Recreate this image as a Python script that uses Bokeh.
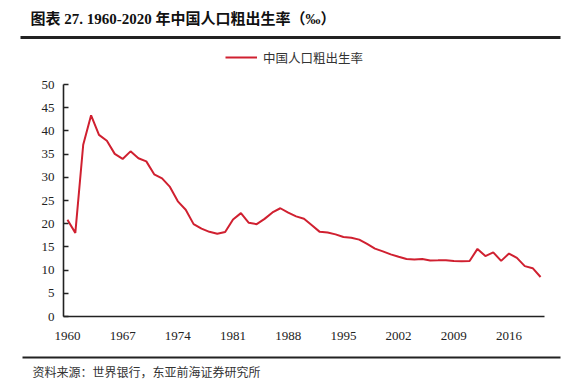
from bokeh.plotting import figure
from bokeh.models import (Range1d, FixedTicker, Label, BoxAnnotation, Legend, LegendItem,
                          ColumnDataSource, LinearAxis)
from bokeh.embed import file_html
from bokeh.resources import INLINE

# ---- data ----
years = list(range(1960, 2021))
birth_rate = [20.86, 18.02, 37.01, 43.37, 39.14, 37.88, 35.05, 33.96, 35.59, 34.11,
              33.43, 30.65, 29.77, 27.93, 24.82, 23.01, 19.91, 18.93, 18.25, 17.82,
              18.21, 20.91, 22.28, 20.19, 19.90, 21.04, 22.43, 23.33, 22.37, 21.58,
              21.06, 19.68, 18.24, 18.09, 17.70, 17.12, 16.98, 16.57, 15.64, 14.64,
              14.03, 13.38, 12.86, 12.41, 12.29, 12.40, 12.09, 12.10, 12.14, 11.95,
              11.90, 11.95, 14.57, 13.03, 13.83, 11.99, 13.57, 12.64, 10.86, 10.41,
              8.52]
x_ticks = [1960, 1967, 1974, 1981, 1988, 1995, 2002, 2009, 2016]
y_ticks = [0, 5, 10, 15, 20, 25, 30, 35, 40, 45, 50]
series_name = "中国人口粗出生率"
title_text = "图表 27. 1960-2020 年中国人口粗出生率（‰）"
source_text = "资料来源：世界银行，东亚前海证券研究所"

RED = "#D02030"
SERIF = "'Liberation Serif', 'Noto Sans CJK SC'"
CJK = "'Noto Sans CJK SC'"

# geometry (px, canvas)
W, H = 573, 387
FL, FR, FT, FB = 4, W - 2, 2, H - 2       # frame edges
AX_L, AX_R, AX_T, AX_B = 63, 544, 84, 316  # axis box
xlo, xhi = 1959.5, 2020.5
ylo, yhi = 0, 50
ppx = (AX_R - AX_L) / (xhi - xlo)
ppy = (AX_B - AX_T) / (yhi - ylo)
x_range = Range1d(xlo - (AX_L - FL) / ppx, xhi + (FR - AX_R) / ppx)
y_range = Range1d(ylo - (FB - AX_B) / ppy, yhi + (AX_T - FT) / ppy)

p = figure(width=W, height=H, output_backend="svg", toolbar_location=None,
           x_range=x_range, y_range=y_range,
           x_axis_location=None, y_axis_location=None,
           min_border_left=FL, min_border_right=W - FR, min_border_top=FT,
           min_border_bottom=H - FB)
p.outline_line_color = None
p.xgrid.grid_line_color = None
p.ygrid.grid_line_color = None
p.background_fill_color = "white"
p.border_fill_color = "white"

src = ColumnDataSource(dict(year=years, rate=birth_rate))
r = p.line("year", "rate", source=src, line_color=RED, line_width=2)

xaxis = LinearAxis(fixed_location=0, bounds=(xlo, xhi), ticker=FixedTicker(ticks=x_ticks))
yaxis = LinearAxis(fixed_location=xlo, bounds=(ylo, yhi), ticker=FixedTicker(ticks=y_ticks))
for ax in (xaxis, yaxis):
    ax.axis_line_color = "#222222"
    ax.axis_line_width = 1.6
    ax.major_label_text_font = "Liberation Serif"
    ax.major_label_text_font_size = "13px"
    ax.major_label_text_color = "#222222"
    ax.minor_tick_line_color = None
xaxis.major_tick_line_color = None
xaxis.major_label_standoff = 9
yaxis.major_tick_in = 5
yaxis.major_tick_out = 0
yaxis.major_tick_line_color = "#222222"
yaxis.major_tick_line_width = 1.4
yaxis.major_label_standoff = 9
p.add_layout(xaxis, "below")
p.add_layout(yaxis, "left")


def sx(px):
    return px - FL


def sy(py):
    return FB - py


# title
p.add_layout(Label(x=sx(30), y=sy(18), x_units="screen", y_units="screen",
                   text=title_text, text_font=SERIF, text_font_style="bold",
                   text_font_size="15px", text_color="#111111",
                   text_baseline="middle", text_align="left"))
# title underline
p.add_layout(BoxAnnotation(left=sx(20), right=sx(560), top=sy(35.5), bottom=sy(38.5),
                           left_units="screen", right_units="screen",
                           top_units="screen", bottom_units="screen",
                           fill_color="#222222", fill_alpha=1, line_color=None))
# bottom line
p.add_layout(BoxAnnotation(left=sx(22), right=sx(560), top=sy(356), bottom=sy(358),
                           left_units="screen", right_units="screen",
                           top_units="screen", bottom_units="screen",
                           fill_color="#222222", fill_alpha=1, line_color=None))
# source
p.add_layout(Label(x=sx(32), y=sy(371), x_units="screen", y_units="screen",
                   text=source_text, text_font=CJK, text_font_size="12px",
                   text_color="#333333", text_baseline="middle", text_align="left"))

# legend
legend = Legend(items=[LegendItem(label=series_name, renderers=[r])],
                location=(sx(225), sy(67)), orientation="horizontal",
                padding=0, margin=0, spacing=0,
                glyph_width=32, glyph_height=20, label_standoff=6,
                label_text_font=CJK, label_text_font_size="12.5px",
                label_text_color="#333333",
                border_line_color=None, background_fill_alpha=0)
p.add_layout(legend, "center")

open("out.html", "w").write(file_html(p, INLINE))
